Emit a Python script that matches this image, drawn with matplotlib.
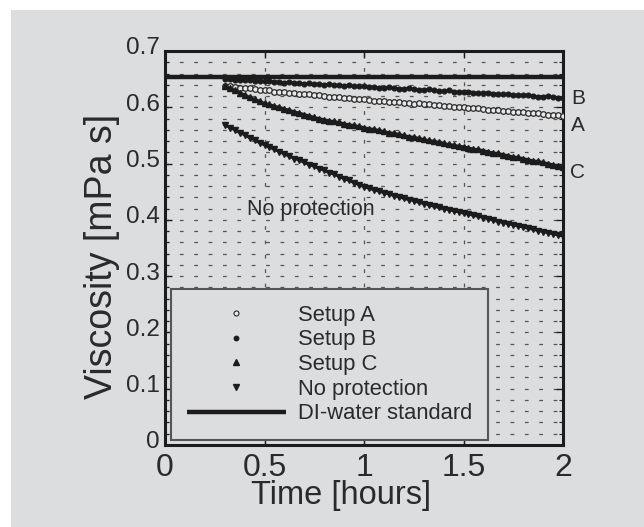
import numpy as np
import matplotlib
matplotlib.use('Agg')
import matplotlib.pyplot as plt
from matplotlib.patches import Rectangle
from matplotlib.transforms import ScaledTranslation
from matplotlib.lines import Line2D

plt.rcParams['font.family'] = ['Liberation Sans', 'DejaVu Sans']

# ---- data ----
time_h = np.round(np.arange(0.3, 2.0001, 0.025), 3)

setup_a = [0.638, 0.637, 0.636, 0.635, 0.634, 0.634, 0.632, 0.631,
           0.630, 0.630, 0.628, 0.628, 0.627, 0.626, 0.625, 0.624,
           0.623, 0.623, 0.621, 0.621, 0.620, 0.619, 0.618, 0.618,
           0.617, 0.616, 0.615, 0.615, 0.614, 0.613, 0.612, 0.612,
           0.611, 0.610, 0.609, 0.609, 0.608, 0.608, 0.606, 0.607,
           0.606, 0.605, 0.604, 0.604, 0.603, 0.602, 0.601, 0.601,
           0.600, 0.599, 0.598, 0.598, 0.597, 0.596, 0.595, 0.595,
           0.594, 0.593, 0.592, 0.592, 0.591, 0.590, 0.589, 0.589,
           0.588, 0.587, 0.586, 0.586, 0.585]

setup_b = [0.650, 0.651, 0.649, 0.649, 0.648, 0.649, 0.647, 0.647,
           0.646, 0.647, 0.645, 0.645, 0.644, 0.645, 0.643, 0.643,
           0.642, 0.643, 0.641, 0.641, 0.640, 0.641, 0.639, 0.639,
           0.638, 0.639, 0.637, 0.638, 0.637, 0.636, 0.636, 0.635,
           0.635, 0.636, 0.634, 0.633, 0.633, 0.634, 0.632, 0.631,
           0.631, 0.632, 0.630, 0.629, 0.629, 0.630, 0.628, 0.627,
           0.627, 0.628, 0.626, 0.625, 0.625, 0.626, 0.624, 0.623,
           0.623, 0.624, 0.622, 0.621, 0.621, 0.622, 0.620, 0.619,
           0.619, 0.620, 0.618, 0.617, 0.617]

setup_c = [0.638, 0.634, 0.630, 0.626, 0.622, 0.618, 0.614, 0.611,
           0.607, 0.605, 0.602, 0.600, 0.597, 0.595, 0.592, 0.590,
           0.587, 0.585, 0.582, 0.580, 0.578, 0.576, 0.575, 0.573,
           0.571, 0.569, 0.568, 0.566, 0.564, 0.562, 0.561, 0.559,
           0.557, 0.555, 0.554, 0.552, 0.550, 0.548, 0.547, 0.545,
           0.543, 0.541, 0.540, 0.538, 0.536, 0.534, 0.533, 0.531,
           0.530, 0.528, 0.526, 0.525, 0.523, 0.521, 0.519, 0.518,
           0.516, 0.514, 0.512, 0.511, 0.509, 0.507, 0.505, 0.504,
           0.502, 0.500, 0.498, 0.496, 0.494]

no_protection = [0.569, 0.564, 0.560, 0.555, 0.551, 0.546, 0.542, 0.537,
                 0.533, 0.529, 0.525, 0.521, 0.517, 0.513, 0.509, 0.506,
                 0.502, 0.498, 0.495, 0.491, 0.488, 0.484, 0.481, 0.477,
                 0.473, 0.470, 0.466, 0.462, 0.459, 0.456, 0.453, 0.451,
                 0.448, 0.446, 0.443, 0.441, 0.438, 0.436, 0.434, 0.431,
                 0.429, 0.427, 0.424, 0.422, 0.420, 0.418, 0.416, 0.414,
                 0.412, 0.410, 0.408, 0.406, 0.404, 0.402, 0.399, 0.397,
                 0.395, 0.393, 0.391, 0.389, 0.387, 0.385, 0.383, 0.381,
                 0.379, 0.377, 0.375, 0.373, 0.371]

di_water_standard = 0.653

x_ticks = [0, 0.5, 1, 1.5, 2]
x_tick_labels = ['0', '0.5', '1', '1.5', '2']
y_ticks = [0, 0.1, 0.2, 0.3, 0.4, 0.5, 0.6, 0.7]
y_tick_labels = ['0', '0.1', '0.2', '0.3', '0.4', '0.5', '0.6', '0.7']
legend_labels = ['Setup A', 'Setup B', 'Setup C', 'No protection', 'DI-water standard']

# ---- style ----
BG = '#dcdddf'
INK = '#1c1c1c'
TXT = '#2a2a2a'

fig = plt.figure(figsize=(6.44, 5.27), dpi=100, facecolor='white')
fig.patches.append(Rectangle((11 / 644, 0), 1, (527 - 10) / 527,
                             transform=fig.transFigure, facecolor=BG,
                             edgecolor='none', zorder=-10))

ax = fig.add_axes([165 / 644, 82 / 527, 398 / 644, 394 / 527])
ax.set_facecolor(BG)
ax.set_xlim(0, 2)
ax.set_ylim(0, 0.7)

# grid: horizontal dashed every 0.02, vertical dashed at major x
for yv in np.round(np.arange(0.02, 0.7, 0.02), 3):
    ax.axhline(yv, color='#555555', lw=0.9, dashes=(3, 8.5), zorder=1)
for xv in [0.5, 1.0, 1.5]:
    ax.axvline(xv, color='#555555', lw=0.9, dashes=(3, 8.5), zorder=1)

# data
ax.plot([0, 2], [di_water_standard, di_water_standard], color=INK, lw=3.2,
        solid_capstyle='butt', zorder=3)
ax.plot(time_h, setup_b, color=INK, lw=2.0, marker='o', ms=3.4, mec=INK,
        mfc=INK, zorder=4)
ax.plot(time_h, setup_a, ls='none', marker='o', ms=4.0, mfc='#e8e8e8',
        mec='#2a2a2a', mew=0.9, zorder=4)
ax.plot(time_h, setup_c, color=INK, lw=2.0, marker='^', ms=4.4, mec=INK,
        mfc=INK, zorder=4)
ax.plot(time_h, no_protection, color=INK, lw=2.0, marker='v', ms=4.4,
        mec=INK, mfc=INK, zorder=4)

# annotations
ax.text(2.075, 0.616, 'B', fontsize=15, color=TXT, ha='center', va='center', clip_on=False)
ax.text(2.075, 0.568, 'A', fontsize=15, color=TXT, ha='center', va='center', clip_on=False)
ax.text(2.075, 0.485, 'C', fontsize=15, color=TXT, ha='center', va='center', clip_on=False)
ax.text(0.41, 0.418, 'No protection', fontsize=15.5, color=TXT, ha='left', va='center')

# ticks
ax.set_xticks(x_ticks)
ax.set_xticklabels(x_tick_labels, fontsize=23, color=TXT)
ax.set_yticks(y_ticks)
ax.set_yticklabels(y_tick_labels, fontsize=17.5, color=TXT)
ax.set_yticks(np.round(np.arange(0, 0.7001, 0.02), 3), minor=True)
ax.tick_params(which='major', direction='in', length=5, width=1.0,
               top=True, right=True, color=INK, pad=6)
ax.tick_params(which='minor', direction='in', length=3, width=0.8,
               left=True, right=True, color=INK)
ax.tick_params(axis='y', which='major', pad=4)
for tk in ax.yaxis.get_major_ticks():
    tk.label1.set_transform(tk.label1.get_transform() +
                            ScaledTranslation(0, 5 / 100, fig.dpi_scale_trans))

for sp in ax.spines.values():
    sp.set_linewidth(2.2)
    sp.set_color(INK)

ax.set_xlabel('Time [hours]', fontsize=23.5, color=TXT)
ax.xaxis.set_label_coords(0.442, -0.09)
ax.set_ylabel('Viscosity [mPa s]', fontsize=27, color=TXT)
ax.yaxis.set_label_coords(-0.112, 0.478)

# legend
handles = [
    Line2D([], [], ls='none', marker='o', ms=3.6, mfc='#e8e8e8', mec='#2a2a2a', mew=0.8),
    Line2D([], [], ls='none', marker='o', ms=3.2, mfc=INK, mec=INK),
    Line2D([], [], ls='none', marker='^', ms=4, mfc=INK, mec=INK),
    Line2D([], [], ls='none', marker='v', ms=4, mfc=INK, mec=INK),
    Line2D([], [], color=INK, lw=3.2, solid_capstyle='butt'),
]
leg = ax.legend(handles, legend_labels, loc='lower left',
                bbox_to_anchor=(0.015, 0.012), fontsize=15.8,
                handlelength=4.5, handletextpad=0.55, borderpad=0.72,
                labelspacing=0.17, borderaxespad=0.0, fancybox=False,
                framealpha=1, facecolor=BG, edgecolor='#555555')
leg.get_frame().set_linewidth(1.5)
for t in leg.get_texts():
    t.set_color(TXT)
leg.set_zorder(6)

fig.savefig('out.png', dpi=100, facecolor=fig.get_facecolor())
